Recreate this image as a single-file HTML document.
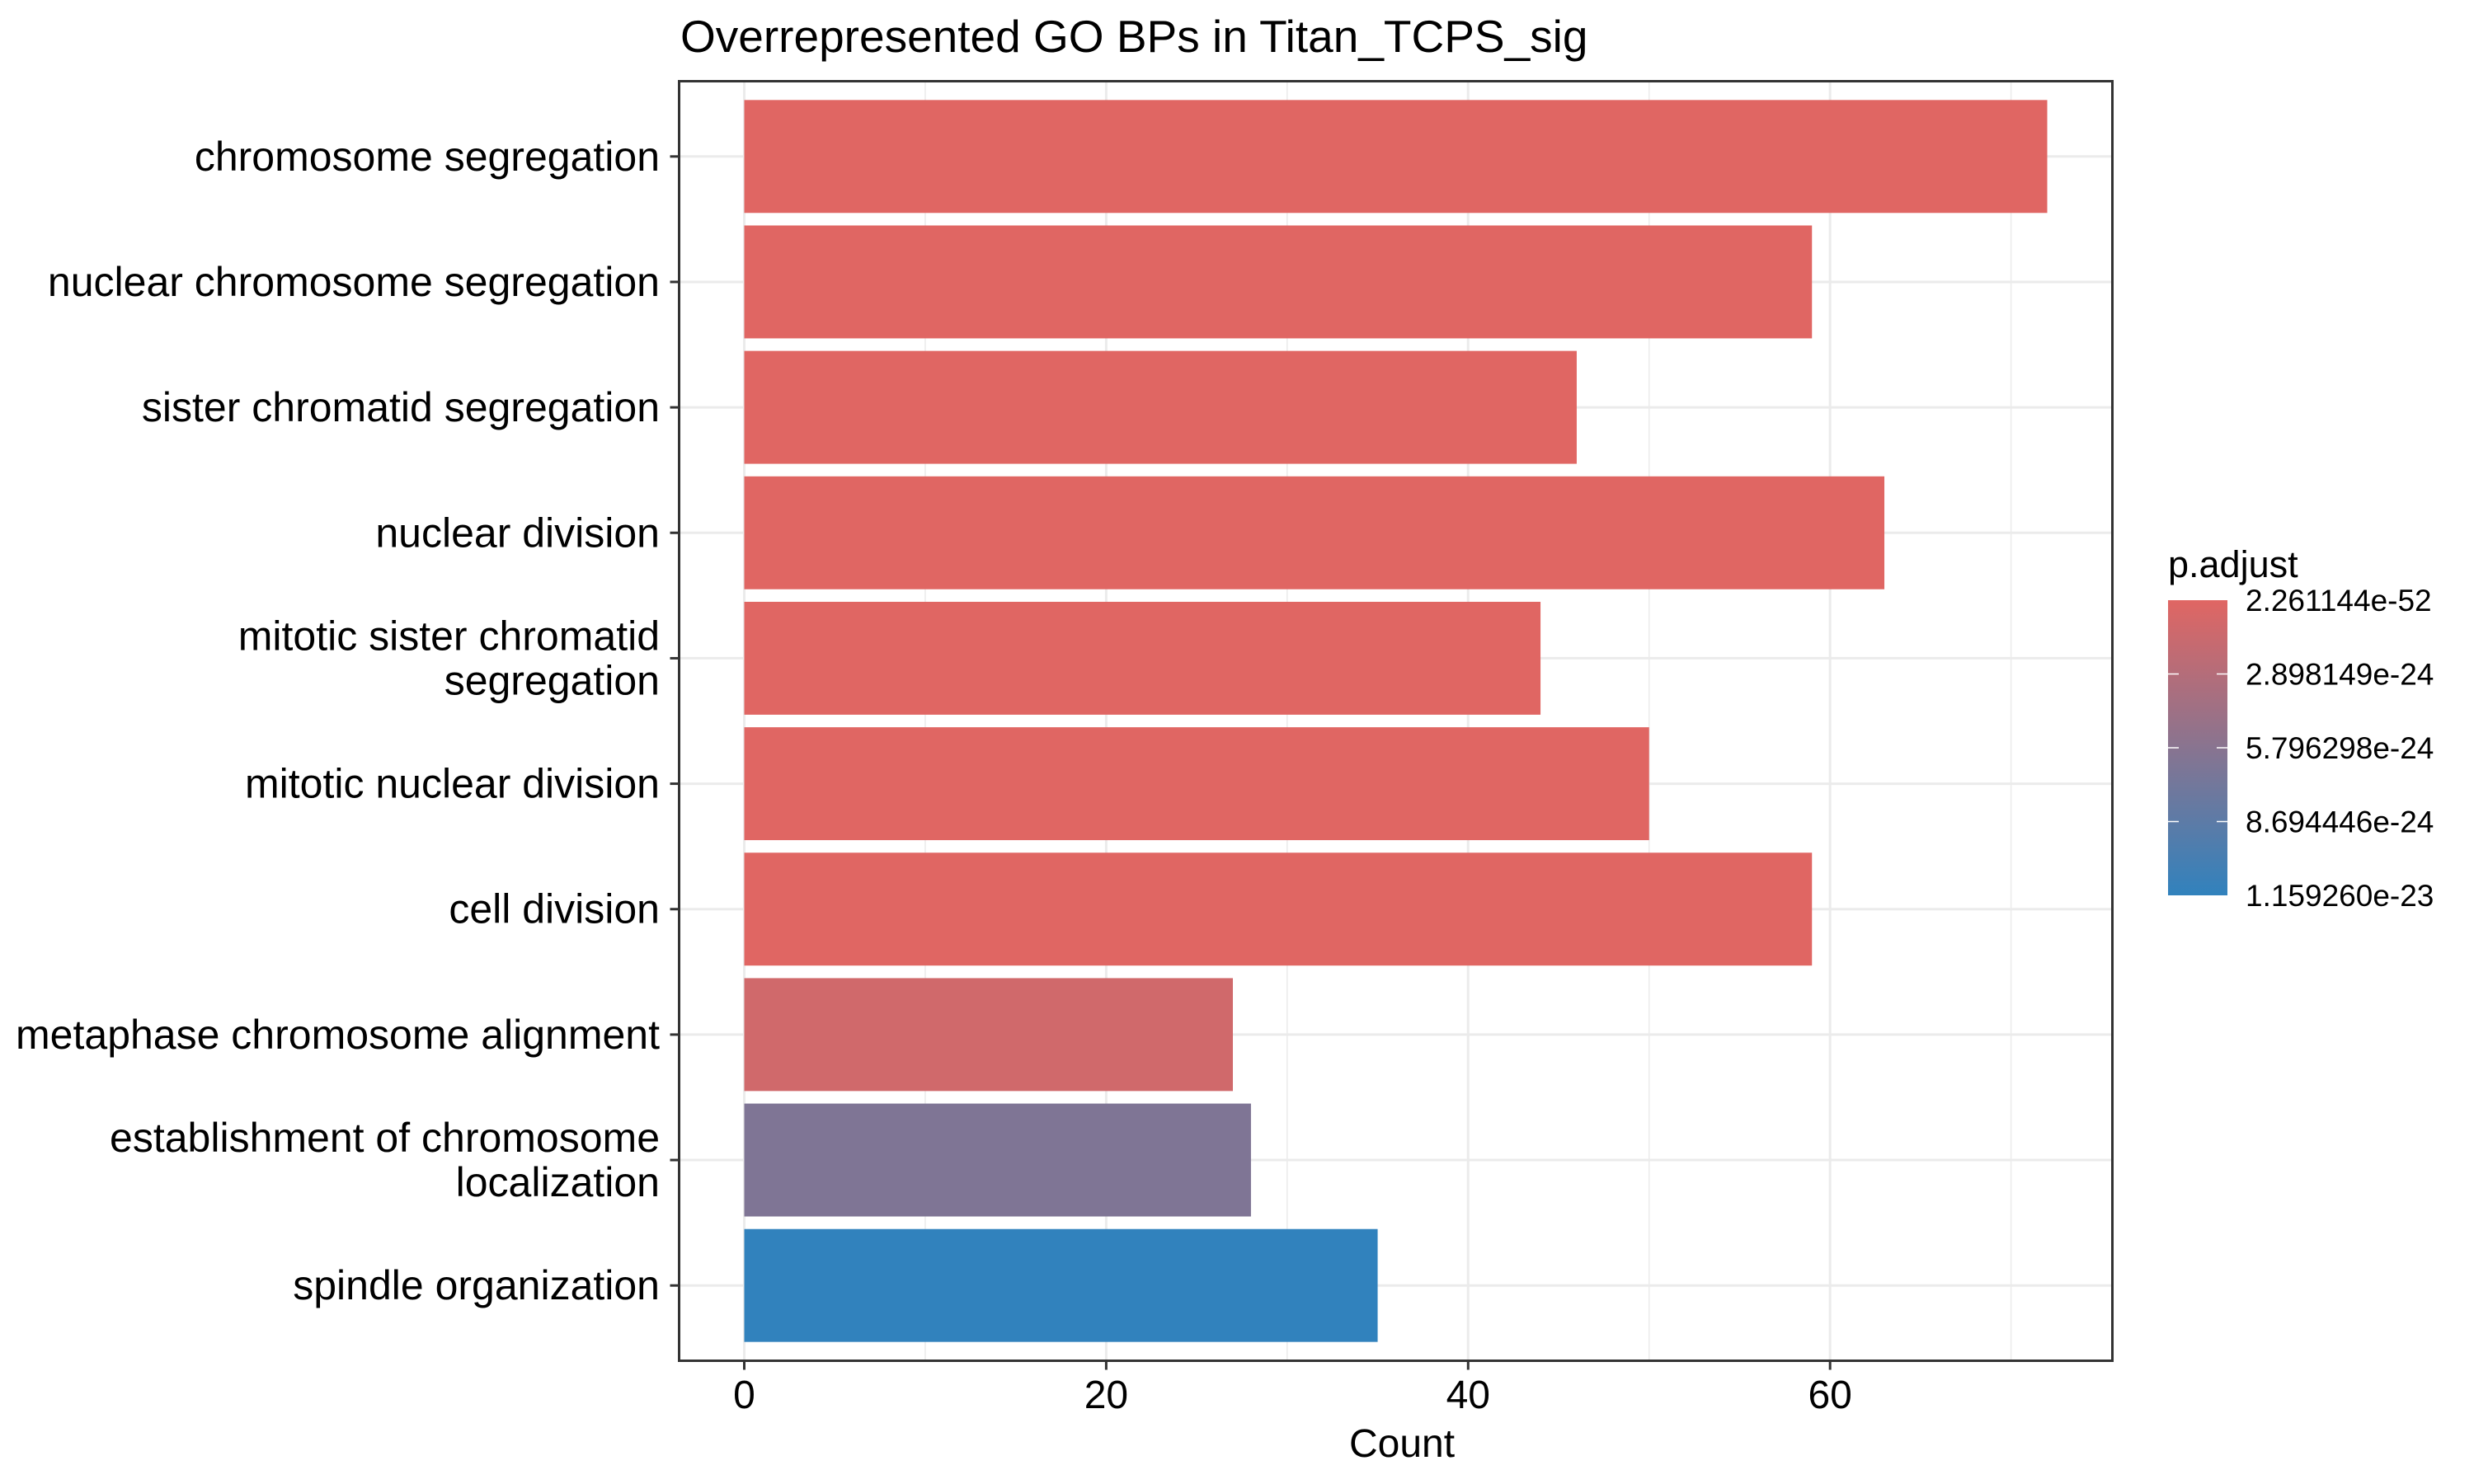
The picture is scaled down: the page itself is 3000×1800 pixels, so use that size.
<!DOCTYPE html>
<html><head><meta charset="utf-8"><style>
html,body{margin:0;padding:0;background:#fff;}
svg{display:block;font-family:"Liberation Sans",Arial,sans-serif;}
</style></head><body>
<svg id="chart" width="3000" height="1800" viewBox="0 0 3000 1800">
<defs><linearGradient id="cbar" x1="0" y1="0" x2="0" y2="1"><stop offset="0" stop-color="#E06663"/><stop offset="1" stop-color="#3182BD"/></linearGradient></defs>
<text x="825" y="63" font-size="55" fill="#000">Overrepresented GO BPs in Titan_TCPS_sig</text>
<rect x="823.5" y="98.5" width="1738" height="1552" fill="#fff"/>
<g id="grid"></g>
<g id="bars"></g>
<rect x="823.5" y="98.5" width="1738" height="1552" fill="none" stroke="#333" stroke-width="3"/>
<g id="axes"></g>
<text x="1700" y="1767" font-size="48" text-anchor="middle">Count</text>
<g>
<text x="2629" y="700" font-size="45">p.adjust</text>
<rect x="2629" y="728" width="72" height="358" fill="url(#cbar)"/>
<g id="legend-ticks"></g>
</g>
</svg>
<script>
const categories = ["chromosome segregation","nuclear chromosome segregation","sister chromatid segregation","nuclear division","mitotic sister chromatid|segregation","mitotic nuclear division","cell division","metaphase chromosome alignment","establishment of chromosome|localization","spindle organization"];
const counts = [72,59,46,63,44,50,59,27,28,35];
const pvalues = [2.3e-52,1e-40,1e-38,1e-45,1e-35,1e-38,1e-40,1.05e-24,6.4e-24,1.15926e-23];
const xTicks = [0,20,40,60];
const xMinorTicks = [10,30,50,70];
const legendLabels = ["2.261144e-52","2.898149e-24","5.796298e-24","8.694446e-24","1.159260e-23"];
const legendValues = [2.261144e-52,2.898149e-24,5.796298e-24,8.694446e-24,1.159260e-23];

const NS="http://www.w3.org/2000/svg";
const L=823.5,R=2561.5,T=98.5,B=1650.5;
const xMin=-3.6,xMax=75.6;
const xs=v=>L+(v-xMin)/(xMax-xMin)*(R-L);
const n=categories.length, band=(B-T)/(n-1+1.2);
const yc=i=>T+band*(0.6+i);
const pMin=legendValues[0],pMax=legendValues[legendValues.length-1];
const ly=v=>728+(v-pMin)/(pMax-pMin)*358;
function col(p){let t=Math.max(0,Math.min(1,(p-pMin)/(pMax-pMin)));
const a=[0xE0,0x66,0x63],b=[0x31,0x82,0xBD];
return "rgb("+a.map((c,k)=>Math.round(c+(b[k]-c)*t)).join(",")+")";}
function mk(tag,attrs,parent){const e=document.createElementNS(NS,tag);for(const k in attrs)e.setAttribute(k,attrs[k]);parent.appendChild(e);return e;}
const grid=document.getElementById('grid'),bars=document.getElementById('bars'),axes=document.getElementById('axes'),lt=document.getElementById('legend-ticks');
xMinorTicks.forEach(v=>{const e=mk('line',{x1:xs(v),x2:xs(v),y1:T,y2:B,stroke:'#ebebeb','stroke-width':1.5},grid);

});
xTicks.forEach(v=>{const e=mk('line',{x1:xs(v),x2:xs(v),y1:T,y2:B,stroke:'#ebebeb','stroke-width':3},grid);


const t=mk('line',{x1:xs(v),x2:xs(v),y1:B,y2:B+11,stroke:'#333','stroke-width':3},axes);


const tx=mk('text',{x:xs(v),y:1708,'font-size':48,'text-anchor':'middle',fill:'#000'},axes);tx.textContent=v;

});
categories.forEach((c,i)=>{const y=yc(i);
const g=mk('line',{x1:L,x2:R,y1:y,y2:y,stroke:'#ebebeb','stroke-width':3},grid);


const h=band*0.9;
const r=mk('rect',{x:xs(0),y:y-h/2,width:xs(counts[i])-xs(0),height:h,fill:col(pvalues[i])},bars);


const t=mk('line',{x1:L-11,x2:L,y1:y,y2:y,stroke:'#333','stroke-width':3},axes);


const lines=c.split('|');
const tx=mk('text',{'font-size':50,'text-anchor':'end',fill:'#000'},axes);


lines.forEach((s,k)=>{const ts=mk('tspan',{x:800,y:y+17+(k-(lines.length-1)/2)*54},tx);ts.textContent=s;});});
legendValues.forEach((v,i)=>{const y=ly(v);
if(i>0&&i<legendValues.length-1){
const a=mk('line',{x1:2629,x2:2642,y1:y,y2:y,stroke:'#fff','stroke-width':1.5},lt);


const b=mk('line',{x1:2688,x2:2701,y1:y,y2:y,stroke:'#fff','stroke-width':1.5},lt);

}
const tx=mk('text',{x:2723,y:y+13,'font-size':37,fill:'#000'},lt);tx.textContent=legendLabels[i];

});
</script>
</body></html>
